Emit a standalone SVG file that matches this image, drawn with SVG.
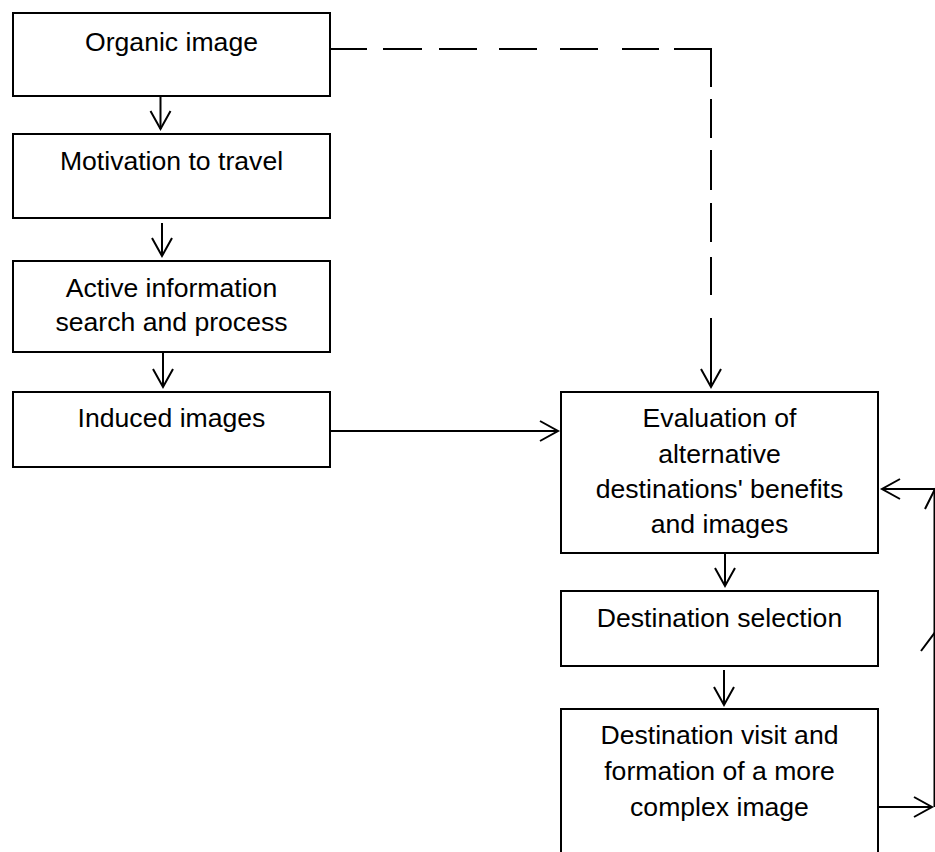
<svg xmlns="http://www.w3.org/2000/svg" width="935" height="852" viewBox="0 0 935 852">
  <style>
    .box { fill: #ffffff; stroke: #000000; stroke-width: 2; }
    .label { font-family: "Liberation Sans", Arial, Helvetica, sans-serif; font-size: 26.6px; fill: #000000; text-anchor: middle; }
    .link { fill: none; stroke: #000000; stroke-width: 2; }
    .head { fill: none; stroke: #000000; stroke-width: 2; }
  </style>
  <defs>
    <!-- open V arrowhead, tip at the path end -->
    <marker id="arrow" markerUnits="userSpaceOnUse" markerWidth="24" markerHeight="24" viewBox="-20 -12 24 24" refX="0" refY="0" orient="auto" overflow="visible">
      <path d="M-18,-10 L0,0 L-18,10" fill="none" stroke="#000000" stroke-width="2"/>
    </marker>
  </defs>
  <rect width="935" height="852" fill="#ffffff"/>

  <!-- left column -->
  <g id="organic-image">
    <rect class="box" x="13" y="13" width="317" height="83"/>
    <text class="label" x="171.5" y="51">Organic image</text>
  </g>
  <g id="motivation">
    <rect class="box" x="13" y="134" width="317" height="84"/>
    <text class="label" x="171.5" y="170">Motivation to travel</text>
  </g>
  <g id="info-search">
    <rect class="box" x="13" y="261" width="317" height="91"/>
    <text class="label" x="171.5" y="297">Active information</text>
    <text class="label" x="171.5" y="331">search and process</text>
  </g>
  <g id="induced-images">
    <rect class="box" x="13" y="392" width="317" height="75"/>
    <text class="label" x="171.5" y="427">Induced images</text>
  </g>

  <!-- right column -->
  <g id="evaluation">
    <rect class="box" x="561" y="392" width="317" height="161"/>
    <text class="label" x="719.5" y="427">Evaluation of</text>
    <text class="label" x="719.5" y="462.5">alternative</text>
    <text class="label" x="719.5" y="498">destinations' benefits</text>
    <text class="label" x="719.5" y="533">and images</text>
  </g>
  <g id="selection">
    <rect class="box" x="561" y="591" width="317" height="75"/>
    <text class="label" x="719.5" y="627">Destination selection</text>
  </g>
  <g id="visit">
    <rect class="box" x="561" y="709" width="317" height="170"/>
    <text class="label" x="719.5" y="744">Destination visit and</text>
    <text class="label" x="719.5" y="780">formation of a more</text>
    <text class="label" x="719.5" y="816">complex image</text>
  </g>

  <!-- connectors -->
  <g id="connectors">
    <path class="link" d="M160.5,96 V129" marker-end="url(#arrow)"/>
    <path class="link" d="M162,223 V256" marker-end="url(#arrow)"/>
    <path class="link" d="M163,352 V387" marker-end="url(#arrow)"/>
    <path class="link" d="M330,431 H558" marker-end="url(#arrow)"/>
    <path class="link" d="M725,553 V586" marker-end="url(#arrow)"/>
    <path class="link" d="M724,670 V705" marker-end="url(#arrow)"/>

    <!-- dashed route from the organic image to the evaluation box -->
    <path class="link" d="M330,49 H367 M383,49 H422 M439,49 H477 M499,49 H537 M560,49 H598 M622,49 H659 M674,49 H711 V87 M711,99 V138 M711,150 V190 M711,203 V242 M711,257 V295 M711,318 V387"/>
    <path class="head" d="M701,369 L711,387 L721,369"/>

    <!-- feedback loop from the visit back to the evaluation -->
    <path class="link" d="M878,807 H932" marker-end="url(#arrow)"/>
    <path class="link" d="M934.5,807 V489 H882" marker-end="url(#arrow)"/>
    <path class="head" d="M921,651 L934.5,633 L948,651"/>
    <path class="head" d="M925,509 L934.5,490 L944,509"/>
  </g>
</svg>
